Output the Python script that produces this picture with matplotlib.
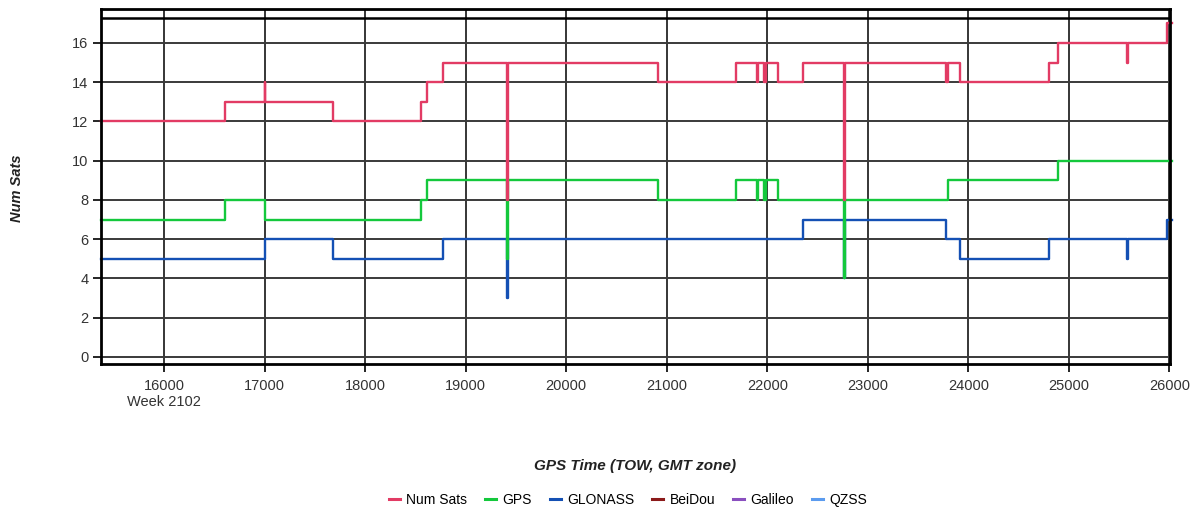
import matplotlib
matplotlib.use("Agg")
import matplotlib.pyplot as plt

plt.rcParams['font.family'] = ['Liberation Sans', 'DejaVu Sans']

# ---- data (step changes: time of change, new value) ----
numsats_t = [15373, 16607, 17000, 17008, 17682, 18555, 18617, 18773, 19410, 19420,
             20911, 21692, 21897, 21905, 21970, 21985, 22106, 22355, 22765, 22775,
             23781, 23801, 23920, 24806, 24892, 25578, 25588, 25977, 26020]
numsats_v = [12, 13, 14, 13, 12, 13, 14, 15, 8, 15,
             14, 15, 14, 15, 14, 15, 14, 15, 8, 15,
             14, 15, 14, 15, 16, 15, 16, 17, 17]

gps_t = [15373, 16607, 17008, 18555, 18617, 19410, 19420, 20911, 21692, 21897,
         21905, 21970, 21985, 22106, 22765, 22775, 23801, 24892, 26020]
gps_v = [7, 8, 7, 8, 9, 5, 9, 8, 9, 8,
         9, 8, 9, 8, 4, 8, 9, 10, 10]

glonass_t = [15373, 17000, 17682, 18773, 19410, 19420, 22355, 22765, 22775, 23781,
             23920, 24806, 25578, 25588, 25977, 26020]
glonass_v = [5, 6, 5, 6, 3, 6, 7, 4, 7, 6,
             5, 6, 5, 6, 7, 7]

series_names = ["Num Sats", "GPS", "GLONASS", "BeiDou", "Galileo", "QZSS"]
series_colors = ["#E23B64", "#14C83C", "#1450B4", "#8B1A1A", "#8A4FBF", "#5B9BEF"]

x_ticks = [16000, 17000, 18000, 19000, 20000, 21000, 22000, 23000, 24000, 25000, 26000]
x_ticklabels = ["16000\nWeek 2102"] + [str(v) for v in x_ticks[1:]]
y_ticks = [0, 2, 4, 6, 8, 10, 12, 14, 16]

fig = plt.figure(figsize=(12, 5.08), dpi=100)
ax = fig.add_axes([101/1200, 1 - 364/508, (1170 - 101)/1200, (364 - 9)/508])

ax.set_xlim(15373, 26005)
ax.set_ylim(-0.36, 17.73)

# grid
for xv in x_ticks:
    ax.axvline(xv, color="black", lw=1.1, zorder=1)
for yv in y_ticks:
    ax.axhline(yv, color="#3a3a3a", lw=1.4, zorder=1)
ax.axhline(17.27, color="black", lw=1.8, zorder=1)

lw = 1.7
ax.step(glonass_t, glonass_v, where="post", color=series_colors[2], lw=lw, zorder=3, clip_on=False)
ax.step(gps_t, gps_v, where="post", color=series_colors[1], lw=lw, zorder=4, clip_on=False)
ax.step(numsats_t, numsats_v, where="post", color=series_colors[0], lw=lw, zorder=5, clip_on=False)

for sp in ax.spines.values():
    sp.set_linewidth(2.0)
    sp.set_color("black")
    sp.set_zorder(6)

ax.set_xticks(x_ticks)
ax.set_xticklabels(x_ticklabels, fontsize=10.5, color="#333333", linespacing=1.15)
ax.set_yticks(y_ticks)
ax.set_yticklabels([str(v) for v in y_ticks], fontsize=10.5, color="#333333")
ax.tick_params(axis="both", direction="out", length=6, width=1.2, color="black")
ax.tick_params(axis="x", pad=5)
ax.tick_params(axis="y", pad=3)

fig.text(635/1200, 1 - 466/508, "GPS Time (TOW, GMT zone)", ha="center", va="center",
         fontsize=11, fontweight="bold", fontstyle="italic", color="#222222")
fig.text(17/1200, 1 - 188/508, "Num Sats", ha="center", va="center", rotation=90,
         fontsize=10.5, fontweight="bold", fontstyle="italic", color="#222222")

handles = [plt.Line2D([], [], color=c, lw=2.2) for c in series_colors]
fig.legend(handles, series_names, loc="center", bbox_to_anchor=(628/1200, 1 - 500/508),
           ncol=6, frameon=False, fontsize=10, handlelength=0.8, handletextpad=0.45,
           columnspacing=1.3)

fig.savefig("out.png", dpi=100)
